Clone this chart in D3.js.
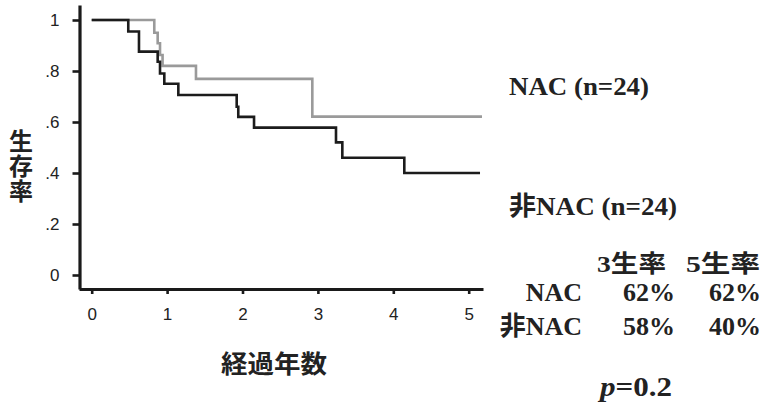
<!DOCTYPE html>
<html>
<head>
  <meta charset="utf-8">
  <title>生存率</title>
  <script src="https://d3js.org/d3.v7.min.js"></script>
  <style>
    body { margin: 0; background: #fff; }
    .tick text { font-family: "Liberation Sans", Arial, sans-serif; font-size: 17px; fill: #222; }
    .jp { font-family: "Noto Sans CJK JP", sans-serif; font-weight: bold; fill: #222; }
    .serif { font-family: "Liberation Serif", "Noto Sans CJK JP", serif; font-weight: bold; fill: #222; }
  </style>
</head>
<body>
<script>
// 1. データ（読み取り値）
var nacTime = [0, 0.83, 0.875, 0.906, 0.94, 1.383, 2.926, 5.176];
var nacSurv = [1, 0.95, 0.909, 0.863, 0.82, 0.769, 0.621, 0.621];

var nonTime = [0, 0.485, 0.627, 0.875, 0.906, 0.963, 1.149, 1.923, 1.944, 2.153, 3.24, 3.324, 4.146, 5.15];
var nonSurv = [1, 0.955, 0.876, 0.836, 0.79, 0.75, 0.706, 0.66, 0.62, 0.578, 0.52, 0.46, 0.40, 0.40];

var yTicks = [0, 0.2, 0.4, 0.6, 0.8, 1];
var yTickLabels = ["0", ".2", ".4", ".6", ".8", "1"];
var xTicks = [0, 1, 2, 3, 4, 5];

var legendLabels = ["NAC (n=24)", "非NAC (n=24)"];
var tableHeader = ["3生率", "5生率"];
var tableRows = ["NAC", "非NAC"];
var rate3 = ["62%", "58%"];
var rate5 = ["62%", "40%"];
var pText = "0.2";

// 2. SVG
var width = 769, height = 410;
var svg = d3.select("body").append("svg").attr("width", width).attr("height", height);

// 3. スケール
var x = d3.scaleLinear().domain([0, 5]).range([91.7, 468.7]);
var y = d3.scaleLinear().domain([0, 1]).range([275, 20]);
var xAx = x.copy().domain([x.invert(79), x.invert(483)]).range([79, 483]);
var yAx = y.copy().domain([y.invert(289), y.invert(5)]).range([289, 5]);

// 4. 軸
svg.append("g").attr("transform", "translate(79.5,0)")
  .call(d3.axisLeft(yAx).tickValues(yTicks).tickSize(7).tickSizeOuter(0).tickPadding(13)
    .tickFormat(function(d, i) { return yTickLabels[i]; }));
svg.append("g").attr("transform", "translate(0,289)")
  .call(d3.axisBottom(xAx).tickValues(xTicks).tickSize(5).tickSizeOuter(0).tickPadding(14)
    .tickFormat(d3.format("d")));
svg.selectAll(".domain").attr("stroke", "#1a1a1a").attr("stroke-width", 3.2);
svg.selectAll(".tick line").attr("stroke", "#1a1a1a").attr("stroke-width", 2.6);

// 5. 生存曲線
var line = d3.line()
  .x(function(d) { return x(d[0]); })
  .y(function(d) { return y(d[1]); })
  .curve(d3.curveStepAfter);

svg.append("path")
  .datum(d3.zip(nacTime, nacSurv))
  .attr("d", line)
  .attr("fill", "none").attr("stroke", "#9a9a9a").attr("stroke-width", 2.6);

svg.append("path")
  .datum(d3.zip(nonTime, nonSurv))
  .attr("d", line)
  .attr("fill", "none").attr("stroke", "#1c1c1c").attr("stroke-width", 2.6);

// 6. 軸ラベル（縦書き）
svg.append("text").attr("class", "jp")
  .attr("x", 21).attr("y", 166.5)
  .attr("text-anchor", "middle")
  .style("writing-mode", "vertical-rl")
  .style("letter-spacing", "1px")
  .attr("font-size", 24)
  .text("生存率");

svg.append("text").attr("class", "jp")
  .attr("x", 221).attr("y", 373).attr("font-size", 25)
  .attr("textLength", 106).attr("lengthAdjust", "spacingAndGlyphs")
  .text("経過年数");

// 7. 凡例・表
svg.append("text").attr("class", "serif").attr("font-size", 26)
  .attr("x", 509).attr("y", 95)
  .attr("textLength", 140).attr("lengthAdjust", "spacingAndGlyphs")
  .text(legendLabels[0]);
svg.append("text").attr("class", "serif").attr("font-size", 26)
  .attr("x", 509).attr("y", 215)
  .attr("textLength", 168).attr("lengthAdjust", "spacingAndGlyphs")
  .text(legendLabels[1]);

svg.append("text").attr("class", "serif").attr("font-size", 24)
  .attr("x", 597).attr("y", 272)
  .attr("textLength", 69).attr("lengthAdjust", "spacingAndGlyphs")
  .text(tableHeader[0]);
svg.append("text").attr("class", "serif").attr("font-size", 24)
  .attr("x", 686).attr("y", 272)
  .attr("textLength", 74).attr("lengthAdjust", "spacingAndGlyphs")
  .text(tableHeader[1]);

var rowY = [301, 335];
tableRows.forEach(function(r, i) {
  svg.append("text").attr("class", "serif").attr("font-size", 26)
    .attr("x", 582).attr("y", rowY[i]).attr("text-anchor", "end")
    .text(r);
  svg.append("text").attr("class", "serif").attr("font-size", 26)
    .attr("x", 675).attr("y", rowY[i]).attr("text-anchor", "end")
    .text(rate3[i]);
  svg.append("text").attr("class", "serif").attr("font-size", 26)
    .attr("x", 761).attr("y", rowY[i]).attr("text-anchor", "end")
    .text(rate5[i]);
});

var pt = svg.append("text").attr("class", "serif").attr("font-size", 28)
  .attr("x", 600).attr("y", 396)
  .attr("textLength", 72).attr("lengthAdjust", "spacingAndGlyphs");
pt.append("tspan").attr("font-style", "italic").text("p");
pt.append("tspan").text("=" + pText);
</script>
</body>
</html>
